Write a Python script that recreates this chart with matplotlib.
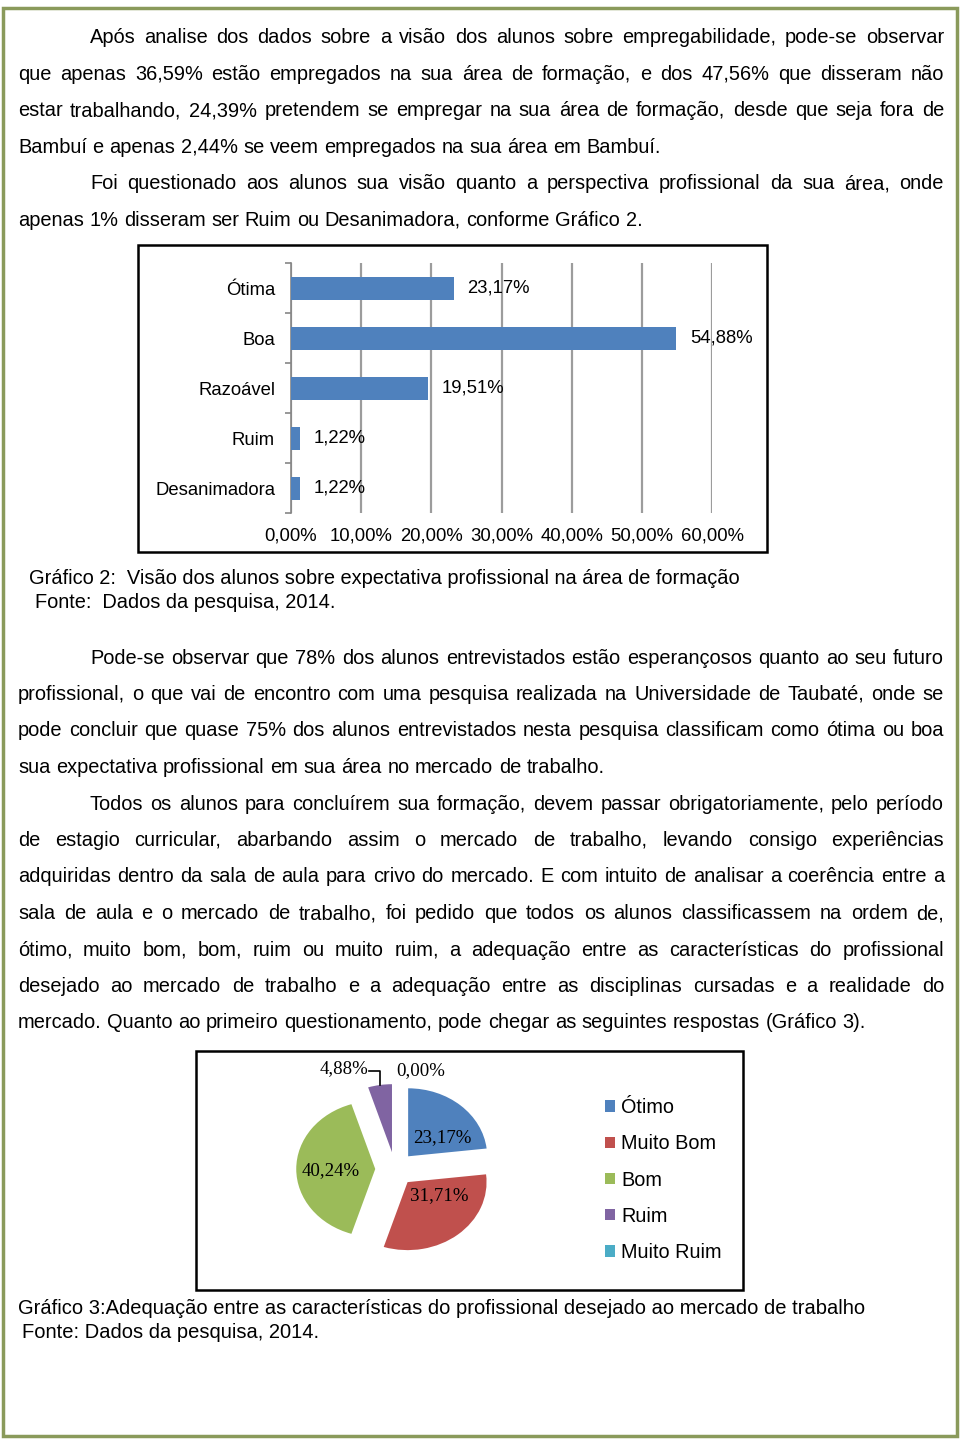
import numpy as np
import matplotlib
matplotlib.use('Agg')
import matplotlib.pyplot as plt
from matplotlib.patches import Rectangle, Patch

plt.rcParams['font.family'] = 'Liberation Sans'

W, H = 960, 1443

# Gráfico 2 data
bar_cats = ['Ótima', 'Boa', 'Razoável', 'Ruim', 'Desanimadora']
bar_vals = [23.17, 54.88, 19.51, 1.22, 1.22]
bar_ticks = [0, 10, 20, 30, 40, 50, 60]

# Gráfico 3 data
pie_cats = ['Ótimo', 'Muito Bom', 'Bom', 'Ruim', 'Muito Ruim']
pie_vals = [23.17, 31.71, 40.24, 4.88, 0.00]
pie_colors = ['#4F81BD', '#C0504D', '#9BBB59', '#8064A2', '#4BACC6']

# page text, line by line: (text, indented, justified)
para1 = [
    ("Após analise dos dados sobre a visão dos alunos sobre empregabilidade, pode-se observar", True, True),
    ("que apenas 36,59% estão empregados na sua área de formação, e dos 47,56% que disseram não", False, True),
    ("estar trabalhando, 24,39% pretendem se empregar na sua área de formação, desde que seja fora de", False, True),
    ("Bambuí e apenas 2,44% se veem empregados na sua área em Bambuí.", False, False),
    ("Foi questionado aos alunos sua visão quanto a perspectiva profissional da sua área, onde", True, True),
    ("apenas 1% disseram ser Ruim ou Desanimadora, conforme Gráfico 2.", False, False),
]
para2 = [
    ("Pode-se observar que 78% dos alunos entrevistados estão esperançosos quanto ao seu futuro", True, True),
    ("profissional, o que vai de encontro com uma pesquisa realizada na Universidade de Taubaté, onde se", False, True),
    ("pode concluir que quase 75% dos alunos entrevistados nesta pesquisa classificam como ótima ou boa", False, True),
    ("sua expectativa profissional em sua área no mercado de trabalho.", False, False),
    ("Todos os alunos para concluírem sua formação, devem passar obrigatoriamente, pelo período", True, True),
    ("de estagio curricular, abarbando assim o mercado de trabalho, levando consigo experiências", False, True),
    ("adquiridas dentro da sala de aula para crivo do mercado. E com intuito de analisar a coerência entre a", False, True),
    ("sala de aula e o mercado de trabalho, foi  pedido que  todos os alunos classificassem na ordem de,", False, True),
    ("ótimo, muito bom, bom, ruim ou muito ruim, a adequação entre as características do profissional", False, True),
    ("desejado ao mercado de trabalho e a adequação entre as disciplinas cursadas e a realidade do", False, True),
    ("mercado. Quanto ao primeiro questionamento, pode chegar as seguintes respostas (Gráfico 3).", False, False),
]

fig = plt.figure(figsize=(W / 100, H / 100), dpi=100)
bg = fig.add_axes([0, 0, 1, 1])
bg.set_xlim(0, W)
bg.set_ylim(H, 0)
bg.axis('off')
renderer = fig.canvas.get_renderer()

BODY = 14.4


def put_line(text, x0, x1, y, size, justify):
    words = text.split()
    objs = [bg.text(0, y, w, fontsize=size, va='baseline') for w in words]
    widths = [o.get_window_extent(renderer).width for o in objs]
    if justify and len(words) > 1:
        gap = (x1 - x0 - sum(widths)) / (len(words) - 1)
    else:
        gap = 0.278 * size * 100 / 72
    x = x0
    for o, w in zip(objs, widths):
        o.set_x(x)
        x += w + gap


def put_para(lines, y0, step):
    for k, (txt, indent, just) in enumerate(lines):
        put_line(txt, 90 if indent else 18, 944, y0 + k * step, BODY, just)


put_para(para1, 43, 36.6)
put_para(para2, 663.5, 36.5)

# page border
bg.add_patch(Rectangle((3, 8), 954, 1428, fill=False, ec='#8A9A5B', lw=2.5))

# chart frames
bg.add_patch(Rectangle((138, 245), 629, 307, fill=False, ec='black', lw=1.8))
bg.add_patch(Rectangle((196, 1051), 547, 239, fill=False, ec='black', lw=1.8))

# captions
bg.text(29, 584, 'Gráfico 2:  Visão dos alunos sobre expectativa profissional na área de formação',
        fontsize=BODY, va='baseline')
bg.text(35, 608, 'Fonte:  Dados da pesquisa, 2014.', fontsize=BODY, va='baseline')

cap3 = bg.text(18, 1314, 'Gráfico 3:Adequação entre as características do profissional desejado ao mercado de trabalho',
               fontsize=BODY, va='baseline')
fit = 844 / cap3.get_window_extent(renderer).width
cap3.set_fontsize(BODY * fit)
bg.text(22, 1338, 'Fonte: Dados da pesquisa, 2014.', fontsize=BODY * fit, va='baseline')

# ---- Gráfico 2: horizontal bars ----
ax = fig.add_axes([291 / W, 1 - 513 / H, (712 - 291) / W, (513 - 263) / H])
ypos = np.arange(len(bar_cats))
ax.barh(ypos, bar_vals, height=0.46, color='#4F81BD', zorder=3)
ax.set_xlim(0, 60)
ax.set_ylim(len(bar_cats) - 0.5, -0.5)
ax.set_xticks(bar_ticks)
ax.set_xticklabels([f'{t:.2f}%'.replace('.', ',') for t in bar_ticks], fontsize=13.3)
ax.set_yticks(ypos)
ax.set_yticklabels(bar_cats, fontsize=13.3)
ax.set_yticks(np.arange(-0.5, len(bar_cats)), minor=True)
ax.tick_params(axis='y', which='major', length=0, pad=11.5)
ax.tick_params(axis='y', which='minor', length=4, color='#868686', width=1.2)
ax.tick_params(axis='x', length=0, pad=10.5)
ax.grid(axis='x', color='#9C9C9C', lw=1.6)
for s in ['top', 'right', 'bottom']:
    ax.spines[s].set_visible(False)
ax.spines['left'].set_color('#868686')
ax.spines['left'].set_linewidth(1.2)
for i, v in enumerate(bar_vals):
    ax.annotate(f'{v:.2f}%'.replace('.', ','), (v, i), xytext=(10, 0), textcoords='offset points',
                va='center', fontsize=13.3)

# ---- Gráfico 3: exploded pie ----
cx, cy, rx, ry, lim = 395, 1169, 79, 68, 1.65
pax = fig.add_axes([(cx - lim * rx) / W, 1 - (cy + lim * ry) / H, 2 * lim * rx / W, 2 * lim * ry / H])
wedges, _ = pax.pie(pie_vals, colors=pie_colors, startangle=90, counterclock=False,
                    explode=[0.25] * len(pie_vals))
pax.set_aspect('auto')
pax.set_xlim(-lim, lim)
pax.set_ylim(-lim, lim)
pax.patch.set_visible(False)

serif = dict(fontsize=13.6, family='Liberation Serif')
inside = [(0.43, 0.27), (0.40, -0.20), (-0.56, -0.03)]
for w, (dx, dy), v in zip(wedges[:3], inside, pie_vals[:3]):
    wx, wy = w.center
    pax.text(wx + dx, wy + dy, f'{v:.2f}%'.replace('.', ','), ha='center', va='center', **serif)

# small slices: labels above, Ruim with a leader line
w = wedges[3]
mid = np.deg2rad((w.theta1 + w.theta2) / 2)
ex, ey = w.center[0] + np.cos(mid), w.center[1] + np.sin(mid)
ly = 1.44
pax.plot([-0.33, ex, ex], [ly, ly, ey], color='black', lw=1.2, clip_on=False)
pax.text(-0.34, ly + 0.03, f'{pie_vals[3]:.2f}%'.replace('.', ','), ha='right', va='center', **serif)
pax.text(0.33, 1.44, f'{pie_vals[4]:.2f}%'.replace('.', ','), ha='center', va='center', **serif)

handles = [Patch(facecolor=c) for c in pie_colors]
fig.legend(handles, pie_cats, loc='upper left', bbox_to_anchor=(605 / W, 1 - 1098 / H),
           frameon=False, fontsize=14.3, handlelength=0.5, handleheight=0.5,
           handletextpad=0.3, labelspacing=0.87, borderpad=0, borderaxespad=0)

fig.savefig('out.png', dpi=100)
